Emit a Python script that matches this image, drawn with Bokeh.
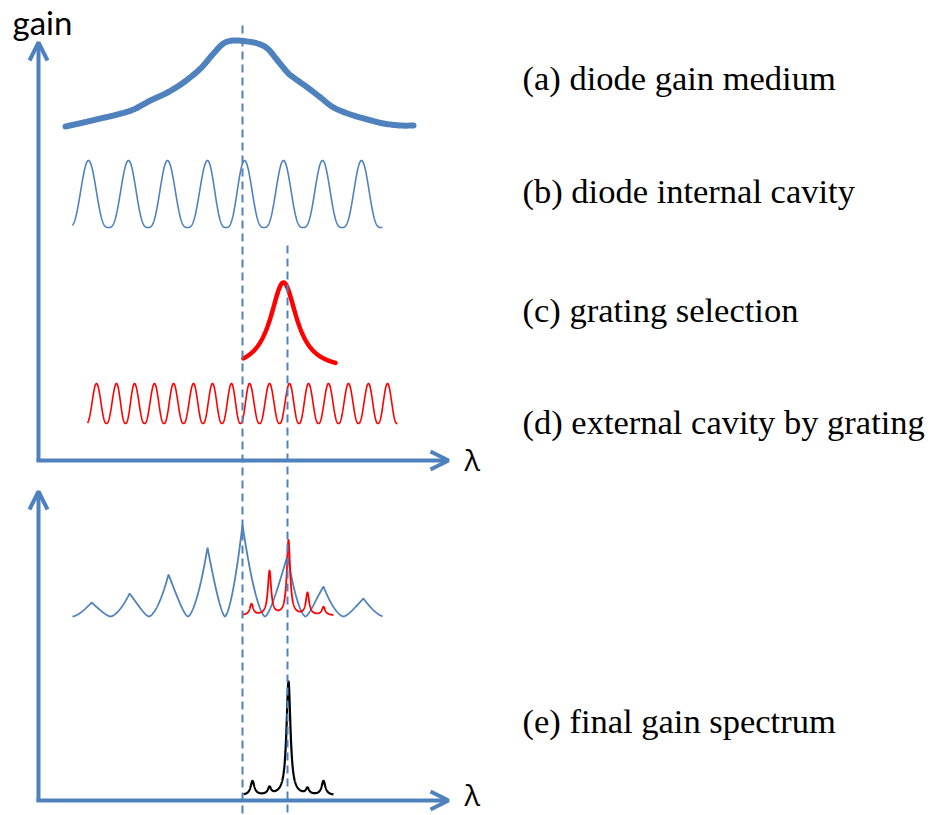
import numpy as np
from bokeh.plotting import figure
from bokeh.models import Range1d, Arrow, OpenHead, Label
from bokeh.embed import file_html
from bokeh.resources import INLINE

BLUE = "#4F81BD"
RED = "#FF0000"

# ---------------- data (screen-like coordinates, y grows downward) ----------
# (a) diode gain medium: traced hand-drawn envelope
gain_x = [65, 83, 100, 117, 133, 150, 167, 183, 200, 213, 223, 233, 247, 257,
          267, 277, 287, 293, 307, 320, 333, 350, 367, 383, 400, 413]
gain_y = [126, 122, 118, 114, 109, 100, 92, 82, 68, 53, 43, 40, 41, 43,
          48, 60, 72, 77, 87, 97, 107, 114, 119, 123, 125, 125]

# (b) diode internal cavity modes
int_centers = [88, 128, 167, 207, 244, 283, 322, 361]
int_height = 67
int_base = 227
int_span = [72, 382]

# (c) grating selection
grat_center = 283
grat_halfwidth = 16
grat_amp = 88
grat_base = 370
grat_span = [243, 335]

# (d) external cavity modes
ext_centers = [96, 116, 134, 154, 173, 193, 212, 231, 249, 269, 289, 308,
               328, 348, 368, 387]
ext_height = 40
ext_base = 423
ext_span = [87, 397]

# lower panel: diode modes shaped by gain
low_centers = [91, 129, 168, 207, 242, 287, 323, 363]
low_heights = [14, 23, 42, 69, 92, 61, 30, 18]
low_base = 616
low_span = [72, 382]

# lower panel: external modes under grating
red_centers = [251, 269, 288, 307, 323]
red_heights = [11, 44, 75, 22, 8]
red_base = 615
red_span = [242, 333]

# (e) final gain spectrum
fin_centers = [252, 269, 288, 307, 323]
fin_heights = [14, 7, 114, 6, 14]
fin_widths = [2.3, 2.0, 2.4, 2.0, 2.3]
fin_base = 795
fin_span = [243, 333]

# dashed guide lines
guide_x = [242, 287]
guide_top = [25, 245]
guide_bottom = 815

labels = ["(a) diode gain medium", "(b) diode internal cavity",
          "(c) grating selection", "(d) external cavity by grating",
          "(e) final gain spectrum"]
label_y = [77, 190, 309, 421, 720]
label_x = 522

# axis-name labels (vertical centres)
lambda_y = [459, 794]

# axes arrows: (x_start, y_start, x_end, y_end)
axes_arrows = [(38, 461, 38, 42), (36, 460, 448, 460),
               (38, 801, 38, 491), (36, 800, 448, 800)]


# ---------------- helpers -----------------------------------------------------
def catmull_rom(xs, ys, n=12):
    P = np.column_stack([xs, ys]).astype(float)
    P = np.vstack([P[0], P, P[-1]])
    out = []
    t = np.linspace(0, 1, n, endpoint=False)[:, None]
    for i in range(1, len(P) - 2):
        p0, p1, p2, p3 = P[i - 1], P[i], P[i + 1], P[i + 2]
        seg = 0.5 * ((2 * p1) + (-p0 + p2) * t +
                     (2 * p0 - 5 * p1 + 4 * p2 - p3) * t ** 2 +
                     (-p0 + 3 * p1 - 3 * p2 + p3) * t ** 3)
        out.append(seg)
    out.append(P[-2][None, :])
    S = np.vstack(out)
    return S[:, 0], S[:, 1]


def phase_of(x, centers):
    c = np.asarray(centers, float)
    idx = np.arange(len(c), dtype=float)
    ph = np.interp(x, c, idx)
    left = x < c[0]
    ph[left] = (x[left] - c[0]) / (c[1] - c[0])
    right = x > c[-1]
    ph[right] = len(c) - 1 + (x[right] - c[-1]) / (c[-1] - c[-2])
    return ph - np.round(ph)


def comb(span, centers, heights, base, kind, p):
    x = np.linspace(span[0], span[1], 1200)
    fr = phase_of(x, centers)
    if kind == "cos":
        g = ((1 + np.cos(2 * np.pi * fr)) / 2) ** p
    else:
        g = (1 - 2 * np.abs(fr)) ** p
    H = np.interp(x, centers, heights) if np.ndim(heights) else heights
    return x, base - H * g


def lorentz_sum(span, centers, heights, widths, base):
    x = np.linspace(span[0], span[1], 1600)
    y = np.zeros_like(x)
    if np.ndim(widths) == 0:
        widths = [widths] * len(centers)
    for c, h, w in zip(centers, heights, widths):
        y += h / (1 + ((x - c) / w) ** 2)
    return x, base - y


# ---------------- figure ------------------------------------------------------
p = figure(width=933, height=815, output_backend="svg", toolbar_location=None,
           x_range=Range1d(0, 933), y_range=Range1d(815, 0),
           min_border=0, x_axis_location=None, y_axis_location=None)
p.grid.visible = False
p.outline_line_color = None
p.background_fill_color = "white"
p.border_fill_color = "white"

# axes
for xs, ys, xe, ye in axes_arrows:
    p.add_layout(Arrow(end=OpenHead(size=18, line_color=BLUE, line_width=4),
                       x_start=xs, y_start=ys, x_end=xe, y_end=ye,
                       line_color=BLUE, line_width=4))

# (a)
ax_, ay_ = catmull_rom(gain_x, gain_y)
p.line(ax_, ay_, line_color=BLUE, line_width=6, line_join="round",
       line_cap="round")

# (b)
bx, by = comb(int_span, int_centers, int_height, int_base, "cos", 1.5)
p.line(bx, by, line_color=BLUE, line_width=1.6)

# (c)
cx = np.linspace(grat_span[0], grat_span[1], 400)
cy = grat_base - grat_amp / (1 + ((cx - grat_center) / grat_halfwidth) ** 2)
p.line(cx, cy, line_color=RED, line_width=4.5, line_cap="round")

# (d)
dx, dy = comb(ext_span, ext_centers, ext_height, ext_base, "cos", 1.2)
p.line(dx, dy, line_color=RED, line_width=1.6)

# lower blue
lx, ly = comb(low_span, low_centers, low_heights, low_base, "tri", 1.5)
p.line(lx, ly, line_color=BLUE, line_width=1.8)

# lower red
rx, ry = lorentz_sum(red_span, red_centers, red_heights, 2.0, red_base)
p.line(rx, ry, line_color=RED, line_width=1.8)

# (e)
fx, fy = lorentz_sum(fin_span, fin_centers, fin_heights, fin_widths, fin_base)
p.line(fx, fy, line_color="black", line_width=2.2)

# dashed guides
p.segment(x0=guide_x, y0=guide_top, x1=guide_x, y1=[guide_bottom] * 2,
          line_color=BLUE, line_width=2, line_dash="8 5")

# texts
for t, yy in zip(labels, label_y):
    p.add_layout(Label(x=label_x, y=yy, text=t,
                       text_font="'Liberation Serif', 'DejaVu Serif', serif",
                       text_font_size="34.5px", text_color="black",
                       text_baseline="alphabetic"))

p.add_layout(Label(x=12, y=21, text="gain", text_font="Lato",
                   text_font_size="33px", text_color="black",
                   text_baseline="alphabetic"))
for yy in lambda_y:
    p.add_layout(Label(x=464, y=yy, text="λ", text_font="Open Sans",
                       text_font_size="29px", text_color="black",
                       text_baseline="middle"))

open("out.html", "w").write(file_html(p, INLINE))
